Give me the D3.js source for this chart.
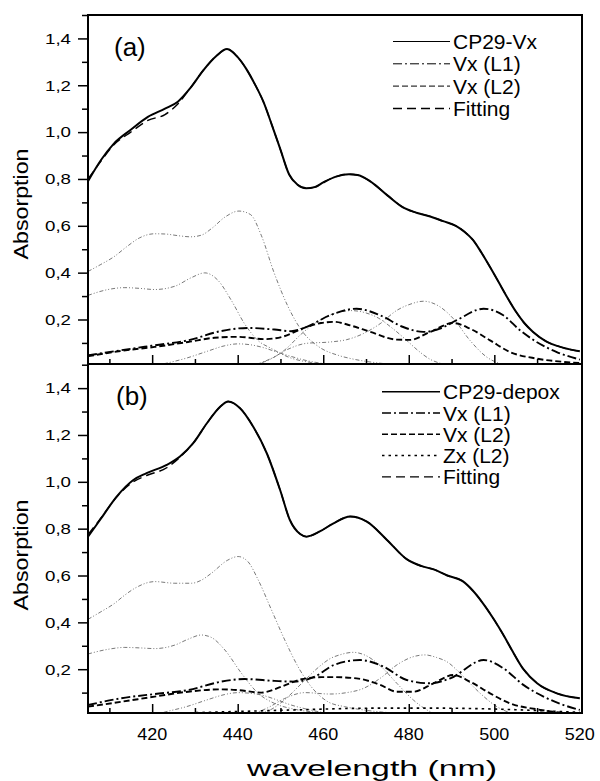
<!DOCTYPE html>
<html><head><meta charset="utf-8">
<script src="https://cdn.jsdelivr.net/npm/d3@7/dist/d3.min.js"></script>
<style>body{margin:0;background:#fff}svg{display:block}</style>
</head><body>
<svg id="c" width="600" height="781"></svg>
<script>
// ---------- data (wavelength nm, absorption) ----------
const xTicks = [420, 440, 460, 480, 500, 520];
const xMinor = [410, 430, 450, 470, 490, 510];
const yTicks = [0.2, 0.4, 0.6, 0.8, 1.0, 1.2, 1.4];
const yMinor = [0.1, 0.3, 0.5, 0.7, 0.9, 1.1, 1.3, 1.5];

// panel (a)
const aMain = [[405,0.79],[408,0.88],[411,0.95],[415,1.01],[419,1.065],[423,1.10],[426,1.13],[429,1.19],[432,1.265],[435,1.325],[437.5,1.355],[440,1.32],[442,1.27],[444,1.205],[446,1.13],[448,1.03],[450,0.925],[452,0.82],[454,0.775],[456,0.76],[458,0.765],[460,0.785],[463,0.81],[466,0.82],[468,0.817],[471,0.79],[475,0.73],[479,0.675],[482,0.655],[485,0.64],[488,0.62],[491,0.6],[493,0.575],[495,0.54],[497,0.485],[499,0.424],[501,0.36],[503,0.295],[505,0.235],[507,0.185],[509,0.148],[512,0.108],[516,0.08],[520,0.064]];
const aFit = [[405,0.80],[408,0.875],[411,0.945],[415,1.0],[419,1.05],[423,1.075],[426,1.12],[429,1.19],[432,1.265],[435,1.325],[437.5,1.355],[440,1.32],[442,1.27],[444,1.205],[446,1.13],[448,1.03],[450,0.925],[452,0.82],[454,0.775],[456,0.76],[458,0.765],[460,0.785],[463,0.81],[466,0.82],[468,0.817],[471,0.79],[475,0.73],[479,0.675],[482,0.655],[485,0.64],[488,0.62],[491,0.6],[493,0.575],[495,0.54],[497,0.485],[499,0.424],[501,0.36],[503,0.295],[505,0.235],[507,0.185],[509,0.148],[512,0.108],[516,0.08],[520,0.064]];
const aVxL1 = [[405,0.047],[412.8,0.069],[420.6,0.09],[428.4,0.111],[436.2,0.151],[442.4,0.164],[448.6,0.157],[452.5,0.15],[456.4,0.171],[461.6,0.218],[467.8,0.246],[473.3,0.218],[478.7,0.168],[483.4,0.147],[487.3,0.161],[491.2,0.197],[497.5,0.246],[502.1,0.218],[506,0.154],[509.9,0.104],[514.6,0.061],[520,0.029]];
const aVxL2 = [[405,0.043],[412.8,0.066],[420.6,0.083],[428.4,0.104],[434.6,0.122],[440.1,0.126],[446.3,0.116],[450.2,0.125],[455.7,0.165],[459.5,0.185],[462.5,0.19],[466.3,0.175],[471,0.147],[477.2,0.114],[480.3,0.113],[485,0.147],[490.4,0.185],[494.3,0.161],[499,0.111],[503.7,0.061],[509.9,0.033],[516.2,0.019],[520,0.014]];
const aThinU = [[405,0.405],[408,0.435],[411,0.467],[414,0.51],[417,0.548],[420.5,0.566],[423,0.565],[426,0.558],[429,0.553],[431.5,0.56],[434,0.59],[437,0.637],[440.3,0.663],[443,0.648],[445.5,0.56],[448.5,0.4],[451.8,0.254],[455,0.152],[459,0.083],[463.5,0.047],[466.5,0.033],[473,0.014],[480,0.005],[490,0]];
const aThinL = [[405,0.303],[409.7,0.328],[413.6,0.336],[417,0.333],[420.6,0.328],[425.3,0.342],[429.2,0.379],[432.3,0.399],[435.4,0.367],[438.5,0.282],[441.6,0.182],[444.7,0.111],[447.9,0.076],[451.8,0.04],[458,0.014],[465,0.004],[475,0]];
const aThin1 = [[420,0],[423,0.012],[428,0.035],[433,0.065],[437,0.088],[440,0.096],[443,0.092],[446,0.08],[449,0.062],[452,0.045],[456,0.025],[460,0.012],[466,0.003],[472,0]];
const aThin2 = [[443,0.005],[447,0.025],[451,0.07],[455,0.14],[459,0.195],[463,0.228],[466.5,0.238],[470,0.228],[473,0.205],[476,0.165],[479.5,0.111],[482,0.07],[485,0.03],[488,0.01],[492,0]];
const aThin3 = [[444,0.005],[448,0.035],[452,0.075],[456,0.098],[461.6,0.104],[465.5,0.114],[469.4,0.14],[473.3,0.182],[477.2,0.239],[480.3,0.265],[483.4,0.278],[487.3,0.254],[490.4,0.204],[494.3,0.111],[498.2,0.04],[501.4,0.011],[505,0]];

// panel (b)
const bMain = [[405,0.766],[407.8,0.837],[411.7,0.937],[415.6,1.008],[418.7,1.037],[423.4,1.072],[426.5,1.108],[429.6,1.165],[432.8,1.25],[435.9,1.321],[437.8,1.343],[440.5,1.315],[443.6,1.236],[446.8,1.122],[449.9,0.966],[452.2,0.837],[454.6,0.777],[456.1,0.766],[459.2,0.788],[462.4,0.823],[466.3,0.852],[470.2,0.83],[474.9,0.752],[479.5,0.67],[483,0.64],[486,0.625],[489,0.6],[492.5,0.577],[495,0.535],[497,0.49],[500,0.41],[502,0.35],[504,0.285],[506.8,0.2],[510,0.14],[514.6,0.097],[520,0.076]];
const bFit = [[405,0.775],[407.8,0.84],[411.7,0.935],[415.6,1.0],[418.7,1.027],[423.4,1.06],[426.5,1.105],[429.6,1.165],[432.8,1.25],[435.9,1.321],[437.8,1.343],[440.5,1.315],[443.6,1.236],[446.8,1.122],[449.9,0.966],[452.2,0.837],[454.6,0.777],[456.1,0.766],[459.2,0.788],[462.4,0.823],[466.3,0.852],[470.2,0.83],[474.9,0.752],[479.5,0.67],[483,0.64],[486,0.625],[489,0.6],[492.5,0.577],[495,0.535],[497,0.49],[500,0.41],[502,0.35],[504,0.285],[506.8,0.2],[510,0.14],[514.6,0.097],[520,0.076]];
const bVxL1 = [[405,0.047],[412.8,0.076],[420.6,0.094],[428.4,0.111],[436.2,0.147],[441.6,0.158],[448.6,0.15],[453.3,0.147],[458,0.168],[462.5,0.218],[468.6,0.239],[474.1,0.211],[479.5,0.154],[485,0.14],[489.7,0.161],[497.5,0.239],[502.1,0.204],[506.8,0.133],[511.5,0.083],[516.2,0.047],[520,0.026]];
const bVxL2 = [[405,0.04],[412.8,0.061],[420.6,0.083],[428.4,0.104],[436.2,0.114],[440.1,0.111],[445.5,0.1],[450.2,0.125],[454.9,0.157],[459.6,0.166],[462.5,0.166],[467.8,0.161],[473.3,0.133],[477.2,0.104],[481.1,0.104],[485.8,0.14],[490.4,0.175],[494.3,0.147],[499,0.097],[503.7,0.054],[509.9,0.029],[516.2,0.014],[520,0.011]];
const bZxL2 = [[415,0.008],[425,0.012],[435,0.017],[445,0.022],[455,0.027],[465,0.032],[475,0.034],[485,0.034],[495,0.032],[505,0.027],[512,0.022],[520,0.016]];
const bThinU = [[405,0.413],[408,0.445],[411.2,0.481],[413.5,0.515],[415.9,0.545],[420.6,0.574],[425.3,0.567],[429.2,0.567],[431.5,0.58],[433.8,0.609],[437.7,0.666],[440.1,0.681],[442.4,0.659],[444.8,0.581],[447.9,0.453],[451,0.325],[454.1,0.211],[457.2,0.125],[461.1,0.061],[465,0.04],[469.4,0.026],[477.2,0.012],[485,0.004],[495,0]];
const bThinL = [[405,0.265],[409.7,0.285],[413.6,0.293],[417,0.291],[420.6,0.288],[425.3,0.303],[428.4,0.328],[431.5,0.346],[433.8,0.336],[437,0.282],[440.9,0.182],[444.8,0.097],[448.6,0.054],[453.3,0.029],[459.6,0.014],[466,0.004],[475,0]];
const bThin1 = [[420,0],[422,0.012],[428,0.04],[433,0.07],[437,0.092],[440.1,0.1],[443,0.097],[445.5,0.09],[449,0.07],[452,0.05],[456,0.03],[460,0.015],[466,0.004],[472,0]];
const bThin2 = [[445,0.01],[448,0.03],[451,0.07],[455,0.14],[459,0.21],[461.6,0.245],[464,0.262],[467,0.272],[470,0.258],[473.3,0.215],[477.2,0.14],[481.1,0.068],[485,0.019],[489,0.003],[494,0]];
const bThin3 = [[443,0.005],[447,0.035],[451,0.075],[455.7,0.1],[461.6,0.094],[465.5,0.1],[469.4,0.118],[473.3,0.161],[477.2,0.218],[480.5,0.25],[483.8,0.261],[486.5,0.25],[488.9,0.232],[492.8,0.168],[496.7,0.097],[500.6,0.04],[503.7,0.014],[507,0.002]];

const aLegend = ["CP29-Vx", "Vx (L1)", "Vx (L2)", "Fitting"];
const bLegend = ["CP29-depox", "Vx (L1)", "Vx (L2)", "Zx (L2)", "Fitting"];

// ---------- drawing ----------
const FONT = "'Liberation Sans', Arial, Helvetica, sans-serif";
const svg = d3.select("#c");
const L = 88, R = 582;
const x = d3.scaleLinear().domain([405, 520.5]).range([L, R]);
const fmt = v => d3.format(".1f")(v).replace(".", ",");

const styles = {
  main:  {stroke:"#000", width:2.0, dash:null},
  fit:   {stroke:"#000", width:1.4, dash:"9,5"},
  l1:    {stroke:"#000", width:1.9, dash:"9,3,2,3"},
  l2:    {stroke:"#000", width:1.9, dash:"6,3"},
  zx:    {stroke:"#000", width:1.6, dash:"2.5,4"},
  thin:  {stroke:"#6a6a6a", width:0.9, dash:"4,2,1,2,1,2"}
};

function panel(cfg) {
  const y = d3.scaleLinear().domain(cfg.yDomain).range([cfg.bottom, cfg.top]);
  const g = svg.append("g");
  const cid = "clip" + cfg.id;
  svg.append("clipPath").attr("id", cid).append("rect")
    .attr("x", L).attr("y", cfg.top).attr("width", R - L).attr("height", cfg.bottom - cfg.top);
  const line = d3.line().x(d => x(d[0])).y(d => y(d[1])).curve(d3.curveMonotoneX);
  const plot = g.append("g").attr("clip-path", `url(#${cid})`);
  cfg.series.forEach(s => {
    const st = styles[s.style];
    plot.append("path").datum(s.data).attr("d", line)
      .attr("fill", "none").attr("stroke", st.stroke).attr("stroke-width", st.width)
      .attr("stroke-dasharray", st.dash).attr("stroke-linejoin", "round");
  });
  // y axis major
  const ya = g.append("g").attr("transform", `translate(${L},0)`)
    .call(d3.axisLeft(y).tickValues(yTicks).tickSize(10).tickPadding(7).tickFormat(fmt));
  ya.select(".domain").remove();
  ya.selectAll("line").attr("stroke-width", 1.5);
  ya.selectAll("text").attr("font-family", FONT).attr("font-size", 15).attr("fill", "#000")
    .attr("textLength", 26).attr("lengthAdjust", "spacingAndGlyphs");
  const ym = g.append("g").attr("transform", `translate(${L},0)`)
    .call(d3.axisLeft(y).tickValues(yMinor.filter(v => v <= cfg.yDomain[1])).tickSize(6).tickFormat(""));
  ym.select(".domain").remove();
  ym.selectAll("line").attr("stroke-width", 1.5);
  // x ticks inward
  const xa = g.append("g").attr("transform", `translate(0,${cfg.bottom})`)
    .call(d3.axisTop(x).tickValues(xTicks.filter(v => v < 520)).tickSize(9).tickFormat(""));
  xa.select(".domain").remove();
  xa.selectAll("line").attr("stroke-width", 1.5);
  const xm = g.append("g").attr("transform", `translate(0,${cfg.bottom})`)
    .call(d3.axisTop(x).tickValues(xMinor).tickSize(5).tickFormat(""));
  xm.select(".domain").remove();
  xm.selectAll("line").attr("stroke-width", 1.5);
  // frame
  g.append("rect").attr("x", L).attr("y", cfg.top).attr("width", R - L).attr("height", cfg.bottom - cfg.top)
    .attr("fill", "none").attr("stroke", "#000").attr("stroke-width", 2);
  // panel label
  g.append("text").attr("x", cfg.labelX).attr("y", cfg.labelY).attr("font-family", FONT)
    .attr("font-size", 26).text(cfg.label);
  // y title
  g.append("text").attr("transform", `translate(28,${cfg.titleY}) rotate(-90)`)
    .attr("text-anchor", "middle").attr("font-family", FONT).attr("font-size", 21)
    .attr("textLength", 111).attr("lengthAdjust", "spacingAndGlyphs").text("Absorption");
  // legend
  cfg.legend.forEach((lab, i) => {
    const ly = cfg.legY + i * cfg.legDy;
    const st = styles[cfg.legStyles[i]];
    g.append("line").attr("x1", cfg.legX1).attr("x2", cfg.legX2).attr("y1", ly).attr("y2", ly)
      .attr("stroke", st.stroke).attr("stroke-width", cfg.legWidth[i]).attr("stroke-dasharray", st.dash);
    g.append("text").attr("x", cfg.legX2 + 3).attr("y", ly + 7.5).attr("font-family", FONT)
      .attr("font-size", 21).text(lab);
  });
  return y;
}

panel({
  id: "a", top: 15, bottom: 364, yDomain: [0.01, 1.5],
  label: "(a)", labelX: 114, labelY: 56, titleY: 204,
  series: [
    {data: aThinU, style: "thin"}, {data: aThinL, style: "thin"}, {data: aThin1, style: "thin"},
    {data: aThin2, style: "thin"}, {data: aThin3, style: "thin"},
    {data: aVxL2, style: "l2"}, {data: aVxL1, style: "l1"},
    {data: aMain, style: "main"}, {data: aFit, style: "fit"}
  ],
  legend: aLegend, legStyles: ["main", "l1", "l2", "fit"], legWidth: [1.2, 1.0, 1.0, 1.5],
  legX1: 393, legX2: 450, legY: 41.5, legDy: 22.3
});

panel({
  id: "b", top: 364, bottom: 713, yDomain: [0.013, 1.503],
  label: "(b)", labelX: 116, labelY: 405, titleY: 555,
  series: [
    {data: bThinU, style: "thin"}, {data: bThinL, style: "thin"}, {data: bThin1, style: "thin"},
    {data: bThin2, style: "thin"}, {data: bThin3, style: "thin"},
    {data: bZxL2, style: "zx"}, {data: bVxL2, style: "l2"}, {data: bVxL1, style: "l1"},
    {data: bMain, style: "main"}, {data: bFit, style: "fit"}
  ],
  legend: bLegend, legStyles: ["main", "l1", "l2", "zx", "fit"], legWidth: [1.5, 1.5, 1.5, 1.5, 1.3],
  legX1: 382, legX2: 440, legY: 391.7, legDy: 21.3
});

// x tick labels (bottom panel)
svg.append("g").selectAll("text").data(xTicks).join("text")
  .attr("x", d => x(d)).attr("y", 740).attr("text-anchor", "middle")
  .attr("font-family", FONT).attr("font-size", 16)
  .attr("textLength", 30).attr("lengthAdjust", "spacingAndGlyphs").text(d => d);

// x title
svg.append("text").attr("x", 372).attr("y", 776).attr("text-anchor", "middle")
  .attr("font-family", FONT).attr("font-size", 22)
  .attr("textLength", 250).attr("lengthAdjust", "spacingAndGlyphs").text("wavelength (nm)");
</script>
</body></html>
